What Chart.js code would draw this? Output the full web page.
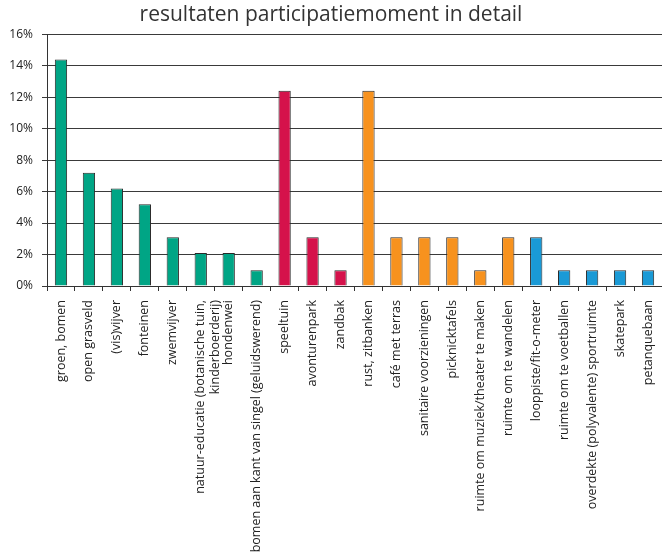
<!DOCTYPE html>
<html>
<head>
<meta charset="utf-8">
<script src="https://cdn.jsdelivr.net/npm/chart.js@4"></script>
<style>
    html, body { margin: 0; padding: 0; background: #fff; }
    #wrap { width: 662px; height: 556px; }
</style>
</head>
<body>
<div id="wrap"><canvas id="detailChart" width="662" height="556"></canvas></div>
<script>
// ========================================
// Data
// ========================================
const categories = [
    'groen, bomen', 'open grasveld', '(vis)vijver', 'fonteinen', 'zwemvijver',
    ['natuur-educatie (botanische tuin,', 'kinderboerderij)'], 'hondenwei',
    'bomen aan kant van singel (geluidswerend)',
    'speeltuin', 'avonturenpark', 'zandbak',
    'rust, zitbanken', 'café met terras', 'sanitaire voorzieningen', 'picknicktafels',
    'ruimte om muziek/theater te maken', 'ruimte om te wandelen',
    'looppiste/fit-o-meter', 'ruimte om te voetballen', 'overdekte (polyvalente) sportruimte',
    'skatepark', 'petanquebaan'
];
const percentages = [
    14.4, 7.2, 6.2, 5.2, 3.1, 2.1, 2.1, 1.0,
    12.4, 3.1, 1.0,
    12.4, 3.1, 3.1, 3.1, 1.0, 3.1,
    3.1, 1.0, 1.0, 1.0, 1.0
];
const groups = [
    'groen', 'groen', 'groen', 'groen', 'groen', 'groen', 'groen', 'groen',
    'spel', 'spel', 'spel',
    'rust', 'rust', 'rust', 'rust', 'rust', 'rust',
    'sport', 'sport', 'sport', 'sport', 'sport'
];
const yTicks = [0, 2, 4, 6, 8, 10, 12, 14, 16];

const groupColors = {
    groen: '#00a585',
    spel: '#d5124b',
    rust: '#f7921e',
    sport: '#1a9ad6'
};

// ========================================
// Chart
// ========================================
Chart.defaults.font.family = '"Open Sans", "Noto Sans", sans-serif';
Chart.defaults.color = '#333';

new Chart(document.getElementById('detailChart'), {
    type: 'bar',
    data: {
        labels: categories,
        datasets: [{
            data: percentages,
            backgroundColor: groups.map(g => groupColors[g]),
            borderColor: '#2a2a2a',
            borderWidth: 1,
            barPercentage: 0.44,
            categoryPercentage: 1
        }]
    },
    options: {
        responsive: false,
        animation: false,
        layout: { padding: 0 },
        plugins: {
            legend: { display: false },
            tooltip: { enabled: false },
            title: {
                display: true,
                text: 'resultaten participatiemoment in detail',
                font: { size: 21, weight: 'normal' },
                color: '#333',
                padding: { top: 2, bottom: 7 }
            }
        },
        scales: {
            x: {
                grid: {
                    offset: true,
                    drawOnChartArea: false,
                    color: '#333',
                    tickLength: 5
                },
                border: { color: '#333' },
                ticks: {
                    autoSkip: false,
                    maxRotation: 90,
                    minRotation: 90,
                    padding: 9,
                    font: { size: 12.5 },
                    color: '#222'
                },
                afterFit(scale) {
                    scale.height = 270;
                    scale.paddingLeft = 0;
                    scale.paddingRight = 0;
                }
            },
            y: {
                min: 0,
                max: 16,
                afterBuildTicks(scale) {
                    scale.ticks = yTicks.map(v => ({ value: v }));
                },
                grid: {
                    color: '#3a3a3a',
                    tickLength: 5
                },
                border: { color: '#333' },
                ticks: {
                    padding: 9,
                    font: { size: 12 },
                    color: '#222',
                    callback: v => v + '%'
                },
                afterFit(scale) { scale.width = 47; }
            }
        }
    }
});
</script>
</body>
</html>
